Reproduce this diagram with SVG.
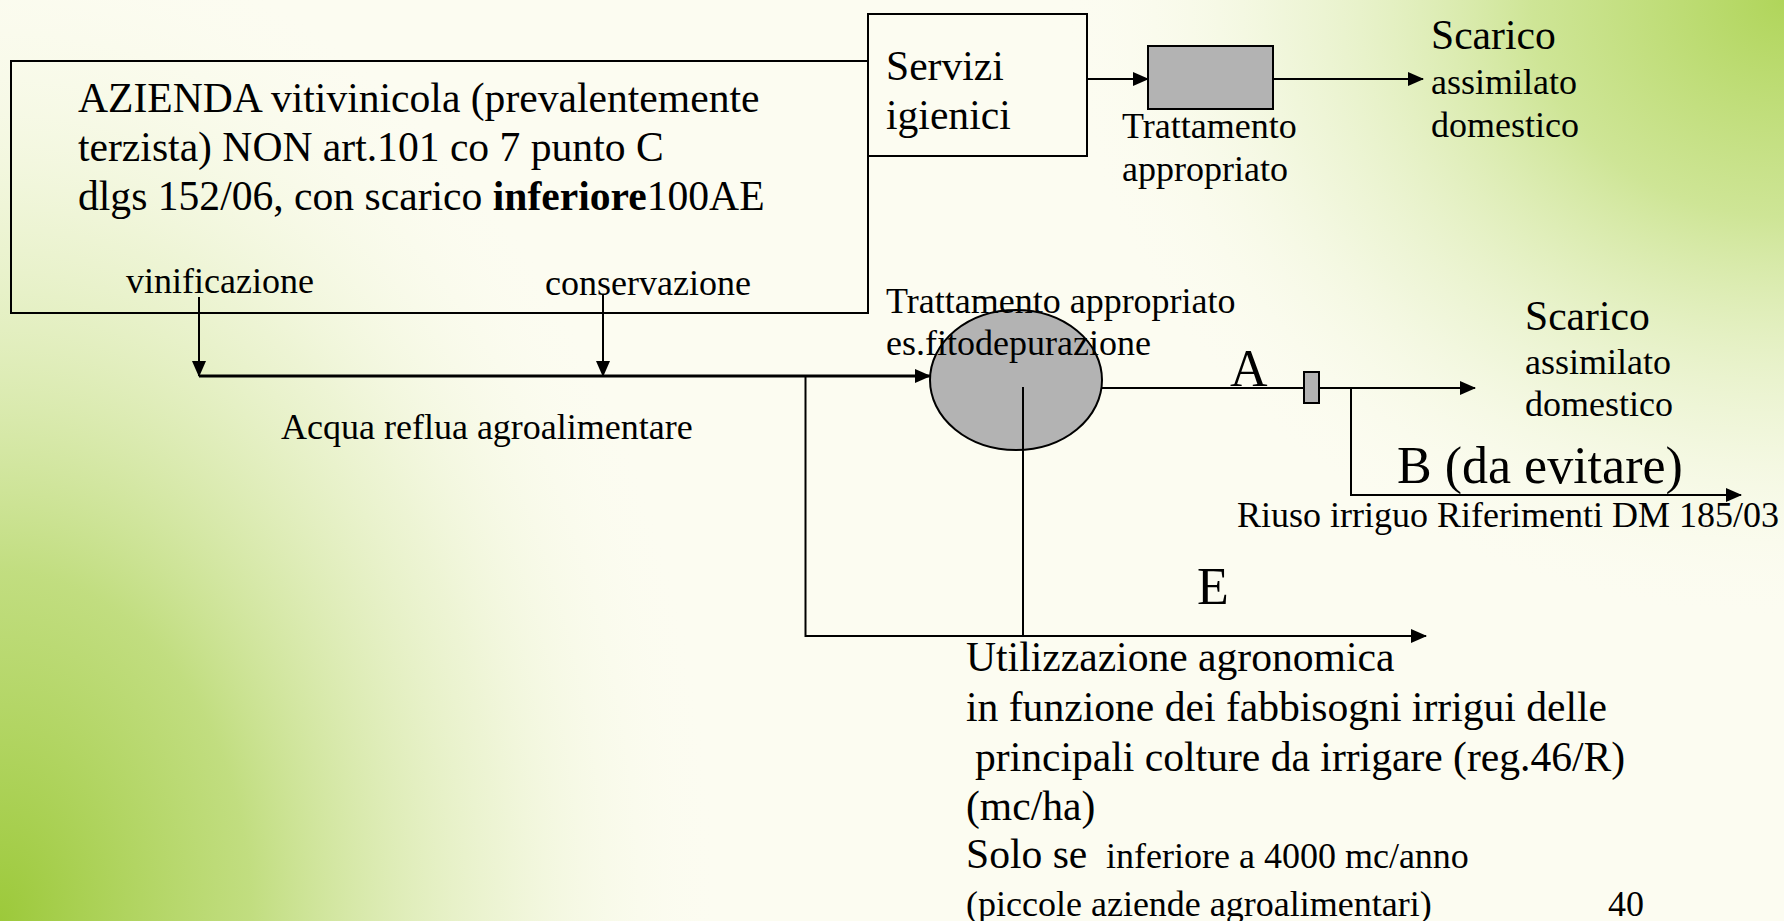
<svg xmlns="http://www.w3.org/2000/svg" width="1784" height="921" viewBox="0 0 1784 921">
<defs>
  <radialGradient id="gBL" gradientUnits="userSpaceOnUse" cx="0" cy="0" r="1" gradientTransform="translate(0,921) scale(720,1000)">
    <stop offset="0" stop-color="#9cc93a"/>
    <stop offset="0.35" stop-color="#b7d86c" stop-opacity="0.85"/>
    <stop offset="0.7" stop-color="#dcebb2" stop-opacity="0.45"/>
    <stop offset="1" stop-color="#fcfcf0" stop-opacity="0"/>
  </radialGradient>
  <radialGradient id="gTR" gradientUnits="userSpaceOnUse" cx="0" cy="0" r="1" gradientTransform="translate(1784,0) scale(720,620)">
    <stop offset="0" stop-color="#b0d55a"/>
    <stop offset="0.35" stop-color="#c6e186" stop-opacity="0.85"/>
    <stop offset="0.7" stop-color="#e2efc0" stop-opacity="0.45"/>
    <stop offset="1" stop-color="#fcfcf0" stop-opacity="0"/>
  </radialGradient>
  <marker id="ah" markerUnits="userSpaceOnUse" markerWidth="16" markerHeight="14" refX="15" refY="7" orient="auto">
    <path d="M0,0 L16,7 L0,14 z" fill="#000"/>
  </marker>
</defs>
<style>
  .t{font-family:"Liberation Serif","Times New Roman",serif;fill:#000}
  .b{font-size:41.6px}
  .m{font-size:36px}
  .l{font-size:52px}
  .ln{stroke:#000;stroke-width:2;fill:none}
  .thick{stroke:#000;stroke-width:3;fill:none}
  .box{fill:none;stroke:#000;stroke-width:2}
  .gray{fill:#b3b3b3;stroke:#000;stroke-width:2}
</style>

<rect width="1784" height="921" fill="#fcfcf1"/>
<rect width="1784" height="921" fill="url(#gBL)"/>
<rect width="1784" height="921" fill="url(#gTR)"/>

<g id="node-azienda">
  <rect class="box" x="11" y="61" width="857" height="252"/>
  <text class="t b" x="78" y="112">AZIENDA vitivinicola (prevalentemente</text>
  <text class="t b" x="78" y="161">terzista) NON art.101 co 7 punto C</text>
  <text class="t b" x="78" y="210">dlgs 152/06, con scarico <tspan font-weight="bold">inferiore</tspan>100AE</text>
  <text class="t m" x="126" y="293">vinificazione</text>
  <text class="t m" x="545" y="295">conservazione</text>
</g>

<g id="node-servizi">
  <rect class="box" x="868" y="14" width="219" height="142"/>
  <text class="t b" x="886" y="80">Servizi</text>
  <text class="t b" x="886" y="129">igienici</text>
</g>

<g id="node-trattamento1">
  <rect class="gray" x="1148" y="46" width="125" height="63"/>
  <text class="t m" x="1122" y="138">Trattamento</text>
  <text class="t m" x="1122" y="181">appropriato</text>
</g>

<g id="node-scarico1">
  <text class="t b" x="1431" y="49">Scarico</text>
  <text class="t m" x="1431" y="94">assimilato</text>
  <text class="t m" x="1431" y="137">domestico</text>
</g>

<g id="connectors">
  <line class="ln" x1="1087" y1="79" x2="1148" y2="79" marker-end="url(#ah)"/>
  <line class="ln" x1="1273" y1="79" x2="1423" y2="79" marker-end="url(#ah)"/>
  <line class="ln" x1="199" y1="297" x2="199" y2="376" marker-end="url(#ah)"/>
  <line class="ln" x1="603" y1="295" x2="603" y2="376" marker-end="url(#ah)"/>
  <line class="thick" x1="199" y1="376" x2="930" y2="376" marker-end="url(#ah)"/>
  <polyline class="ln" points="805.5,376 805.5,636 1426,636" marker-end="url(#ah)"/>
  <line class="ln" x1="1023" y1="387" x2="1023" y2="636"/>
  <line class="ln" x1="1102" y1="388" x2="1475" y2="388" marker-end="url(#ah)"/>
  <polyline class="ln" points="1351,388 1351,495 1741,495" marker-end="url(#ah)"/>
</g>

<g id="node-fitodepurazione">
  <ellipse cx="1016" cy="380" rx="86" ry="70" fill="#b3b3b3" stroke="#000" stroke-width="2"/>
  <line class="ln" x1="1023" y1="387" x2="1023" y2="450"/>
  <text class="t m" x="886" y="313">Trattamento appropriato</text>
  <text class="t m" x="886" y="355">es.fitodepurazione</text>
</g>

<g id="node-pozzetto">
  <rect class="gray" x="1304" y="372" width="15" height="31"/>
</g>

<g id="labels">
  <text class="t m" x="281" y="439">Acqua reflua agroalimentare</text>
  <text class="t l" x="1230" y="386">A</text>
  <text class="t l" x="1397" y="483">B (da evitare)</text>
  <text class="t m" x="1237" y="527">Riuso irriguo Riferimenti DM 185/03</text>
  <text class="t l" x="1197" y="604">E</text>
</g>

<g id="node-scarico2">
  <text class="t b" x="1525" y="330">Scarico</text>
  <text class="t m" x="1525" y="374">assimilato</text>
  <text class="t m" x="1525" y="416">domestico</text>
</g>

<g id="node-utilizzazione">
  <text class="t b" x="966" y="671">Utilizzazione agronomica</text>
  <text class="t b" x="966" y="721">in funzione dei fabbisogni irrigui delle</text>
  <text class="t b" x="975" y="771">principali colture da irrigare (reg.46/R)</text>
  <text class="t b" x="966" y="820">(mc/ha)</text>
  <text class="t" x="966" y="868"><tspan class="b">Solo se</tspan><tspan class="m" x="1106">inferiore a 4000 mc/anno</tspan></text>
  <text class="t m" x="966" y="916">(piccole aziende agroalimentari)</text>
  <text class="t m" x="1608" y="916">40</text>
</g>
</svg>
